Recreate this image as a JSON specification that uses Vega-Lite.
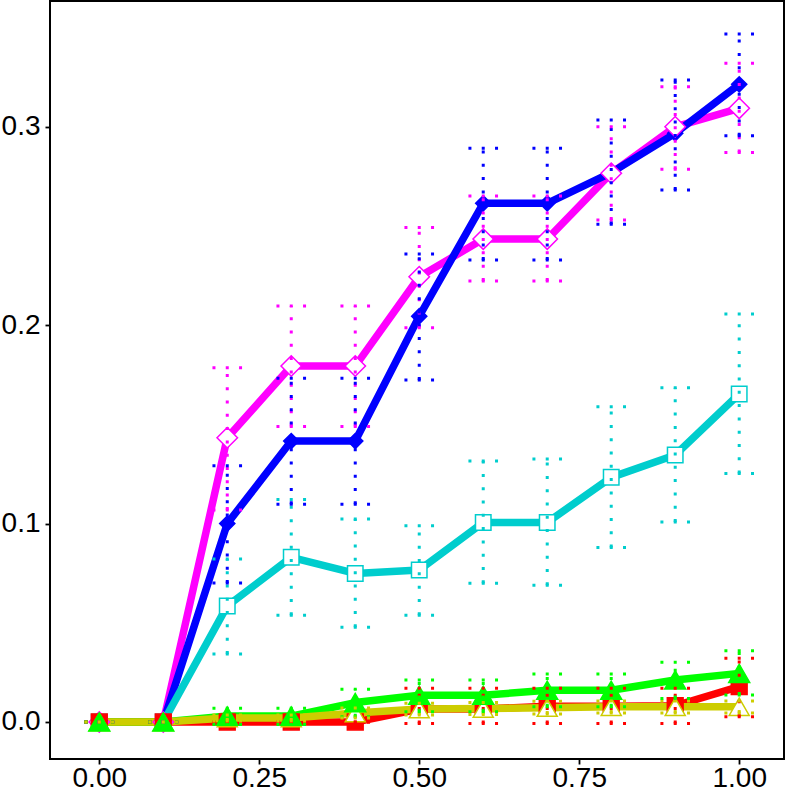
{
  "$schema": "https://vega.github.io/schema/vega-lite/v6.json",
  "autosize": "none",
  "padding": {"left": 50, "top": 1, "right": 5, "bottom": 30},
  "width": 734,
  "height": 758,
  "background": "white",
  "datasets": {
    "runs": [
      {"s": "s3", "x": 0.0, "y": 0, "lo": 0, "hi": 0},
      {"s": "s3", "x": 0.1, "y": 0, "lo": 0, "hi": 0},
      {"s": "s3", "x": 0.2, "y": 0.1433, "lo": 0.1069, "hi": 0.1786},
      {"s": "s3", "x": 0.3, "y": 0.1794, "lo": 0.1489, "hi": 0.2097},
      {"s": "s3", "x": 0.4, "y": 0.1794, "lo": 0.1489, "hi": 0.2097},
      {"s": "s3", "x": 0.5, "y": 0.2244, "lo": 0.1987, "hi": 0.2493},
      {"s": "s3", "x": 0.6, "y": 0.2434, "lo": 0.2223, "hi": 0.2651},
      {"s": "s3", "x": 0.7, "y": 0.2434, "lo": 0.2223, "hi": 0.2651},
      {"s": "s3", "x": 0.8, "y": 0.2766, "lo": 0.2530, "hi": 0.3000},
      {"s": "s3", "x": 0.9, "y": 0.3000, "lo": 0.2786, "hi": 0.3202},
      {"s": "s3", "x": 1.0, "y": 0.3093, "lo": 0.2870, "hi": 0.3320},
      {"s": "s1", "x": 0.0, "y": 0, "lo": 0, "hi": 0},
      {"s": "s1", "x": 0.1, "y": 0, "lo": 0, "hi": 0},
      {"s": "s1", "x": 0.2, "y": 0.1000, "lo": 0.0700, "hi": 0.1292},
      {"s": "s1", "x": 0.3, "y": 0.1416, "lo": 0.1097, "hi": 0.1732},
      {"s": "s1", "x": 0.4, "y": 0.1416, "lo": 0.1097, "hi": 0.1732},
      {"s": "s1", "x": 0.5, "y": 0.2045, "lo": 0.1724, "hi": 0.2359},
      {"s": "s1", "x": 0.6, "y": 0.2614, "lo": 0.2329, "hi": 0.2892},
      {"s": "s1", "x": 0.7, "y": 0.2614, "lo": 0.2329, "hi": 0.2892},
      {"s": "s1", "x": 0.8, "y": 0.2769, "lo": 0.2509, "hi": 0.3034},
      {"s": "s1", "x": 0.9, "y": 0.2967, "lo": 0.2681, "hi": 0.3236},
      {"s": "s1", "x": 1.0, "y": 0.3214, "lo": 0.2955, "hi": 0.3468},
      {"s": "s2", "x": 0.0, "y": 0, "lo": 0, "hi": 0},
      {"s": "s2", "x": 0.1, "y": 0, "lo": 0, "hi": 0},
      {"s": "s2", "x": 0.2, "y": 0.0585, "lo": 0.0343, "hi": 0.0822},
      {"s": "s2", "x": 0.3, "y": 0.0830, "lo": 0.0538, "hi": 0.1122},
      {"s": "s2", "x": 0.4, "y": 0.0749, "lo": 0.0477, "hi": 0.1023},
      {"s": "s2", "x": 0.5, "y": 0.0766, "lo": 0.0538, "hi": 0.0989},
      {"s": "s2", "x": 0.6, "y": 0.1006, "lo": 0.0699, "hi": 0.1315},
      {"s": "s2", "x": 0.7, "y": 0.1006, "lo": 0.0689, "hi": 0.1326},
      {"s": "s2", "x": 0.8, "y": 0.1233, "lo": 0.0879, "hi": 0.1589},
      {"s": "s2", "x": 0.9, "y": 0.1346, "lo": 0.1008, "hi": 0.1685},
      {"s": "s2", "x": 1.0, "y": 0.1653, "lo": 0.1252, "hi": 0.2056},
      {"s": "s4", "x": 0.0, "y": 0, "lo": 0, "hi": 0},
      {"s": "s4", "x": 0.1, "y": 0, "lo": 0, "hi": 0},
      {"s": "s4", "x": 0.2, "y": 0, "lo": 0, "hi": 0},
      {"s": "s4", "x": 0.3, "y": 0, "lo": 0, "hi": 0},
      {"s": "s4", "x": 0.4, "y": 0, "lo": 0, "hi": 0},
      {"s": "s4", "x": 0.5, "y": 0.0065, "lo": -0.0007, "hi": 0.0170},
      {"s": "s4", "x": 0.6, "y": 0.0065, "lo": -0.0007, "hi": 0.0170},
      {"s": "s4", "x": 0.7, "y": 0.0080, "lo": -0.0007, "hi": 0.0170},
      {"s": "s4", "x": 0.8, "y": 0.0080, "lo": -0.0007, "hi": 0.0170},
      {"s": "s4", "x": 0.9, "y": 0.0082, "lo": -0.0007, "hi": 0.0170},
      {"s": "s4", "x": 1.0, "y": 0.0178, "lo": 0.0027, "hi": 0.0321},
      {"s": "s6", "x": 0.0, "y": 0, "lo": 0, "hi": 0},
      {"s": "s6", "x": 0.1, "y": 0, "lo": 0, "hi": 0},
      {"s": "s6", "x": 0.2, "y": 0.0030, "lo": -0.0012, "hi": 0.0069},
      {"s": "s6", "x": 0.3, "y": 0.0030, "lo": -0.0012, "hi": 0.0069},
      {"s": "s6", "x": 0.4, "y": 0.0098, "lo": 0.0027, "hi": 0.0165},
      {"s": "s6", "x": 0.5, "y": 0.0135, "lo": 0.0052, "hi": 0.0212},
      {"s": "s6", "x": 0.6, "y": 0.0135, "lo": 0.0052, "hi": 0.0212},
      {"s": "s6", "x": 0.7, "y": 0.0160, "lo": 0.0077, "hi": 0.0242},
      {"s": "s6", "x": 0.8, "y": 0.0160, "lo": 0.0077, "hi": 0.0242},
      {"s": "s6", "x": 0.9, "y": 0.0212, "lo": 0.0119, "hi": 0.0301},
      {"s": "s6", "x": 1.0, "y": 0.0245, "lo": 0.0136, "hi": 0.0359},
      {"s": "s5", "x": 0.0, "y": 0, "lo": 0, "hi": 0},
      {"s": "s5", "x": 0.1, "y": 0, "lo": 0, "hi": 0},
      {"s": "s5", "x": 0.2, "y": 0.0020, "lo": 0.0005, "hi": 0.0035},
      {"s": "s5", "x": 0.3, "y": 0.0020, "lo": 0.0005, "hi": 0.0035},
      {"s": "s5", "x": 0.4, "y": 0.0045, "lo": 0.0020, "hi": 0.0070},
      {"s": "s5", "x": 0.5, "y": 0.0065, "lo": 0.0035, "hi": 0.0095},
      {"s": "s5", "x": 0.6, "y": 0.0068, "lo": 0.0038, "hi": 0.0098},
      {"s": "s5", "x": 0.7, "y": 0.0072, "lo": 0.0040, "hi": 0.0104},
      {"s": "s5", "x": 0.8, "y": 0.0077, "lo": 0.0045, "hi": 0.0106},
      {"s": "s5", "x": 0.9, "y": 0.0077, "lo": 0.0045, "hi": 0.0106},
      {"s": "s5", "x": 1.0, "y": 0.0077, "lo": 0.0045, "hi": 0.0106}
    ]
  },
  "data": {"name": "runs"},
  "encoding": {
    "x": {
      "field": "x",
      "type": "quantitative",
      "title": null,
      "scale": {"domain": [-0.077, 1.07], "nice": false, "zero": false},
      "axis": {"values": [0, 0.25, 0.5, 0.75, 1], "format": ".2f", "labelPadding": 0}
    },
    "stroke": {
      "field": "s",
      "type": "nominal",
      "legend": null,
      "scale": {
        "domain": ["s1", "s2", "s3", "s4", "s5", "s6"],
        "range": ["#0000FF", "#00CDCD", "#FF00FF", "#FF0000", "#CDCD00", "#00FF00"]
      }
    }
  },
  "layer": [
    {
      "mark": {"type": "line", "strokeWidth": 7.5, "strokeJoin": "round", "strokeCap": "round"},
      "encoding": {
        "y": {
          "field": "y",
          "type": "quantitative",
          "title": null,
          "scale": {"domain": [-0.01865, 0.3634], "nice": false, "zero": false},
          "axis": {"values": [0, 0.1, 0.2, 0.3], "format": ".1f", "labelPadding": 5}
        }
      }
    },
    {
      "mark": {"type": "point", "filled": true, "opacity": 1, "strokeWidth": 1.5},
      "encoding": {
        "y": {"field": "y", "type": "quantitative", "title": null},
        "order": {"field": "s"},
        "shape": {
          "field": "s",
          "type": "nominal",
          "legend": null,
          "scale": {
            "domain": ["s1", "s2", "s3", "s4", "s5", "s6"],
            "range": ["diamond", "square", "diamond", "square", "triangle-up", "triangle-up"]
          }
        },
        "size": {
          "field": "s",
          "type": "ordinal",
          "legend": null,
          "scale": {
            "type": "ordinal",
            "domain": ["s1", "s2", "s3", "s4", "s5", "s6"],
            "range": [230, 240, 420, 250, 400, 440]
          }
        },
        "fill": {
          "field": "s",
          "type": "nominal",
          "legend": null,
          "scale": {
            "domain": ["s1", "s2", "s3", "s4", "s5", "s6"],
            "range": ["#0000FF", "#FFFFFF", "#FFFFFF", "#FF0000", "#FFFFFF", "#00FF00"]
          }
        }
      }
    },
    {
      "mark": {"type": "rule", "strokeWidth": 3, "strokeDash": [3, 10.3]},
      "encoding": {
        "y": {"field": "lo", "type": "quantitative", "title": null},
        "y2": {"field": "hi"}
      }
    },
    {
      "mark": {"type": "rule", "strokeWidth": 3, "strokeDash": [3, 10.3], "xOffset": -14.8, "x2Offset": 14.8},
      "encoding": {
        "x2": {"field": "x"},
        "y": {"field": "hi", "type": "quantitative", "title": null}
      }
    },
    {
      "mark": {"type": "rule", "strokeWidth": 3, "strokeDash": [3, 10.3], "xOffset": -14.8, "x2Offset": 14.8},
      "encoding": {
        "x2": {"field": "x"},
        "y": {"field": "lo", "type": "quantitative", "title": null}
      }
    }
  ],
  "config": {
    "view": {"stroke": "black", "strokeWidth": 2},
    "axis": {
      "domain": false,
      "grid": false,
      "ticks": true,
      "tickSize": 5,
      "tickWidth": 1.8,
      "tickColor": "black",
      "labelFont": "Liberation Sans",
      "labelFontSize": 28,
      "labelColor": "black"
    }
  }
}
